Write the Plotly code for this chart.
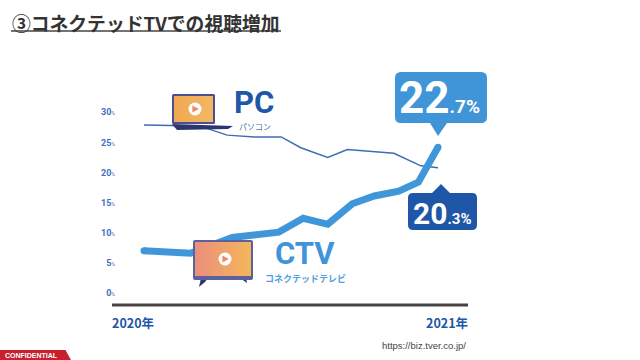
import base64
import plotly.graph_objects as go

# ---- data ----
ctv_months = [0, 0.9, 1.9, 3.6, 5.5, 6.5, 7.5, 8.5, 9.4, 10.4, 11.2, 12]
ctv_values = [7.0, 6.8, 6.6, 9.2, 10.1, 12.4, 11.4, 14.8, 16.1, 16.9, 18.4, 24.2]
pc_months = [0, 1.1, 2.5, 3.4, 4.5, 5.6, 6.4, 7.5, 8.3, 9.4, 10.2, 11.3, 12]
pc_values = [27.9, 27.8, 27.4, 26.2, 25.9, 25.9, 24.1, 22.5, 23.8, 23.4, 23.2, 21.1, 20.8]
y_ticks = [0, 5, 10, 15, 20, 25, 30]
start_label, end_label = "2020年", "2021年"
title = "③コネクテッドTVでの視聴増加"

W, H = 640, 360
L, R, T, B = 116, 468, 52, 305
BLUE, DARK, LIGHT = "#3f95d8", "#1e56a8", "#3f97da"
JP = "Noto Sans CJK JP"


def px(x):
    return (x - L) / (R - L)


def py(y):
    return (B - y) / (B - T)


def svg_uri(s):
    return "data:image/svg+xml;base64," + base64.b64encode(s.encode()).decode()


play = lambda cx, cy, r, c: (
    f'<circle cx="{cx}" cy="{cy}" r="{r}" fill="#fff"/>'
    f'<path d="M{cx-r*.4} {cy-r*.55}L{cx+r*.6} {cy}L{cx-r*.4} {cy+r*.55}Z" fill="{c}"/>'
)

laptop = f'''<svg xmlns="http://www.w3.org/2000/svg" width="61" height="38" viewBox="0 0 61 38">
<defs><linearGradient id="a" x1="0" x2="1" y1="0" y2="0"><stop offset="0" stop-color="#f0a850"/><stop offset="1" stop-color="#f2b865"/></linearGradient></defs>
<rect x="0" y="0" width="43" height="30" rx="1.5" fill="#4a4f8f"/>
<rect x="2" y="2" width="39" height="26" fill="url(#a)"/>
{play(23, 15, 6.5, "#ee8a66")}
<path d="M0 30L61 32L56 35L5 36Z" fill="#2d3470"/>
</svg>'''

tv = f'''<svg xmlns="http://www.w3.org/2000/svg" width="62" height="48" viewBox="0 0 62 48">
<defs><linearGradient id="b" x1="0" x2="1" y1="0" y2="0"><stop offset="0" stop-color="#ea8f7c"/><stop offset="1" stop-color="#f4b75a"/></linearGradient></defs>
<path d="M9 38L7 47L13 42L16 38Z" fill="#2d3470"/><path d="M48 38L55 43L54 38Z" fill="#2d3470"/>
<rect x="1" y="0" width="60" height="40" rx="2" fill="#5c609f"/>
<rect x="3" y="2" width="56" height="34" fill="url(#b)"/>
{play(33, 19, 6.5, "#ee8a66")}
</svg>'''


def bubble(x0, x1, y0, y1, r, tx0, tx1, tipx, tipy, up, color):
    path = (
        f"M{px(x0+r)} {py(y0)}"
        + "".join(f"L{px(a)} {py(b)}" for a, b in ((tx0, y0), (tipx, tipy), (tx1, y0)) if up)
        + f"L{px(x1-r)} {py(y0)}Q{px(x1)} {py(y0)} {px(x1)} {py(y0+r)}"
        + f"L{px(x1)} {py(y1-r)}Q{px(x1)} {py(y1)} {px(x1-r)} {py(y1)}"
        + "".join(f"L{px(a)} {py(b)}" for a, b in ((tx1, y1), (tipx, tipy), (tx0, y1)) if not up)
        + f"L{px(x0+r)} {py(y1)}Q{px(x0)} {py(y1)} {px(x0)} {py(y1-r)}"
        + f"L{px(x0)} {py(y0+r)}Q{px(x0)} {py(y0)} {px(x0+r)} {py(y0)}Z"
    )
    return dict(type="path", xref="paper", yref="paper", path=path, fillcolor=color,
                line=dict(width=0))


def text(x, y, s, size, color, anchor="left", bold=True, family=JP, va="middle"):
    return dict(
        xref="paper", yref="paper", x=px(x), y=py(y), text=f"<b>{s}</b>" if bold else s,
        showarrow=False, xanchor=anchor, yanchor=va, align=anchor,
        font=dict(size=size, color=color, family=family),
        borderpad=0, borderwidth=0,
    )


fig = go.Figure()
fig.add_trace(go.Scatter(x=pc_months, y=pc_values, mode="lines", line=dict(color="#3e6db5", width=1.5), hoverinfo="skip"))
fig.add_trace(go.Scatter(x=ctv_months, y=ctv_values, mode="lines", line=dict(color=LIGHT, width=7), hoverinfo="skip"))
fig.add_trace(go.Scatter(x=[ctv_months[0], ctv_months[-1]], y=[ctv_values[0], ctv_values[-1]], mode="markers",
                         marker=dict(color=LIGHT, size=7, line=dict(width=0)), hoverinfo="skip"))

shapes = [
    dict(type="line", xref="paper", yref="paper", x0=px(112), x1=px(468), y0=py(305), y1=py(305),
         line=dict(color="#444444", width=3)),
    dict(type="line", xref="paper", yref="paper", x0=px(11), x1=px(281), y0=py(31), y1=py(31),
         line=dict(color="#444444", width=1.5)),
    dict(type="path", xref="paper", yref="paper",
         path=f"M{px(0)} {py(350)}L{px(65.5)} {py(350)}L{px(71)} {py(360)}L{px(0)} {py(360)}Z",
         fillcolor="#c8202f", line=dict(width=0)),
    bubble(395, 487, 72, 123, 6, 430, 447, 438, 136, False, BLUE),
    bubble(408, 477, 193, 230, 5, 432, 450, 441, 184, True, DARK),
]

anns = [
    text(12, 22, title, 18.8, "#333333"),
    text(5, 355.5, "CONFIDENTIAL", 7, "#ffffff", family="Liberation Sans"),
    text(466, 345, "https://biz.tver.co.jp/", 9.5, "#444444", anchor="right", bold=False, family="Liberation Sans"),
    text(112, 322, start_label, 12.5, DARK),
    text(468, 322, end_label, 12.5, DARK, anchor="right"),
    text(234, 103, "PC", 31, DARK, family="Roboto"),
    text(239, 127, "パソコン", 8, "#4a70aa", bold=False),
    text(275, 253, "CTV", 31, BLUE, family="Roboto"),
    text(265, 278, "コネクテッドテレビ", 9, "#4fa0dc"),
    text(399, 98, "<span style='font-size:44px'>22</span><span style='font-size:19px'>.7%</span>", 44, "#ffffff", family="Roboto"),
    text(413, 213, "<span style='font-size:30px'>20</span><span style='font-size:15px'>.3%</span>", 30, "#ffffff", family="Roboto"),
]

images = [
    dict(source=svg_uri(laptop), xref="paper", yref="paper", x=px(172), y=py(94), sizex=61 / (R - L), sizey=38 / (B - T),
         xanchor="left", yanchor="top", sizing="stretch", layer="above"),
    dict(source=svg_uri(tv), xref="paper", yref="paper", x=px(192), y=py(240), sizex=62 / (R - L), sizey=48 / (B - T),
         xanchor="left", yanchor="top", sizing="stretch", layer="above"),
]

m0, m_per = 144, 24.5
fig.update_layout(
    width=W, height=H, autosize=False, showlegend=False,
    margin=dict(l=L, r=W - R, t=T, b=H - B, pad=0),
    paper_bgcolor="#ffffff", plot_bgcolor="#ffffff",
    shapes=shapes, annotations=anns, images=images,
    xaxis=dict(range=[(L - m0) / m_per, (R - m0) / m_per], showgrid=False, zeroline=False, showticklabels=False, ticks=""),
    yaxis=dict(range=[-2, 40], showgrid=False, zeroline=False, ticks="", tickvals=y_ticks,
               ticktext=[f"<b>{v}</b><span style='font-size:5px'>%</span>" for v in y_ticks],
               tickfont=dict(size=9, color="#3f6fc0", family="Roboto")),
)
fig.write_html("out.html", config=dict(displayModeBar=False),
               post_script="document.body.style.margin='0';document.documentElement.style.overflow='hidden';")
